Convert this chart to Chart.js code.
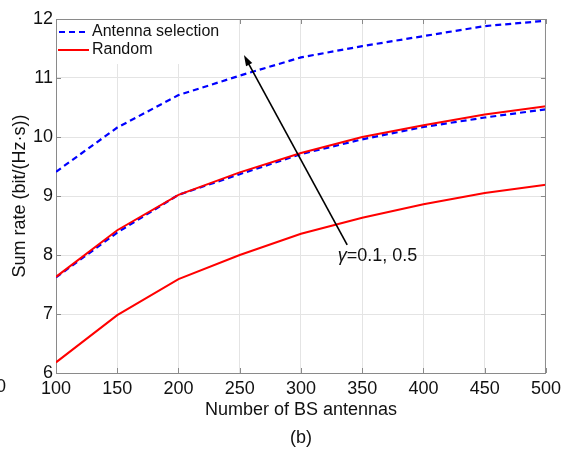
<!DOCTYPE html>
<html><head><meta charset="utf-8">
<script src="https://cdn.jsdelivr.net/npm/chart.js@4/dist/chart.umd.min.js"></script>
<style>html,body{margin:0;padding:0;background:#fff;}canvas{display:block;}</style>
</head><body>
<canvas id="c" width="566" height="450"></canvas>
<script>
// ---- data ----
const antennas = [100, 150, 200, 250, 300, 350, 400, 450, 500];
const asGammaHigh = [9.41, 10.16, 10.71, 11.04, 11.35, 11.54, 11.71, 11.88, 11.97];
const asGammaLow = [7.62, 8.38, 9.02, 9.37, 9.71, 9.96, 10.17, 10.33, 10.47];
const randGammaHigh = [7.63, 8.42, 9.02, 9.40, 9.73, 10.00, 10.20, 10.38, 10.52];
const randGammaLow = [6.18, 6.98, 7.59, 8.00, 8.36, 8.63, 8.86, 9.05, 9.19];
const xTickValues = [100, 150, 200, 250, 300, 350, 400, 450, 500];
const yTickValues = [6, 7, 8, 9, 10, 11, 12];
const legendLabels = ['Antenna selection', 'Random'];
const xTitle = ['Number of BS antennas', '(b)'];
const yTitle = 'Sum rate (bit/(Hz\u00B7s))';
const gammaSymbol = '\u03B3';
const gammaText = '=0.1, 0.5';
const arrowFrom = [337.7, 8.17];
const arrowTo = [253.4, 11.39];
const gammaLabelAt = [330, 7.99];
const neighbourTick = '500';

const FONT = 'Liberation Sans, Arial, Helvetica, sans-serif';
const BLUE = '#0000ff', RED = '#ff0000', AXIS = '#8a8a8a', GRID = '#e4e4e4', TXT = '#111';
const pts = ys => antennas.map((x, i) => ({x, y: ys[i]}));

const extras = {
  id: 'extras',
  afterDatasetsDraw(chart) {
    const {ctx, chartArea: a, scales: {x, y}} = chart;
    ctx.save();
    // top and right box lines
    ctx.strokeStyle = AXIS; ctx.lineWidth = 1;
    ctx.beginPath();
    ctx.moveTo(a.left, a.top + 0.5); ctx.lineTo(a.right, a.top + 0.5);
    ctx.moveTo(a.right - 0.5, a.top); ctx.lineTo(a.right - 0.5, a.bottom);
    ctx.stroke();
    // inward ticks
    ctx.beginPath();
    xTickValues.forEach(v => {
      const px = Math.round(x.getPixelForValue(v)) + 0.5;
      ctx.moveTo(px, a.top); ctx.lineTo(px, a.top + 5);
      ctx.moveTo(px, a.bottom); ctx.lineTo(px, a.bottom - 5);
    });
    yTickValues.forEach(v => {
      const py = Math.round(y.getPixelForValue(v)) + 0.5;
      ctx.moveTo(a.right, py); ctx.lineTo(a.right - 5, py);
      ctx.moveTo(a.left, py); ctx.lineTo(a.left + 5, py);
    });
    ctx.stroke();

    // legend
    const lx = a.left + 1, ly = a.top + 1;
    ctx.fillStyle = '#fff';
    ctx.fillRect(lx, ly, 168, 44);
    ctx.lineWidth = 2.2;
    ctx.strokeStyle = BLUE; ctx.setLineDash([6, 4]);
    ctx.beginPath(); ctx.moveTo(lx + 2, ly + 12); ctx.lineTo(lx + 32, ly + 12); ctx.stroke();
    ctx.setLineDash([]);
    ctx.strokeStyle = RED; ctx.lineWidth = 2;
    ctx.beginPath(); ctx.moveTo(lx + 1, ly + 30); ctx.lineTo(lx + 32, ly + 30); ctx.stroke();
    ctx.fillStyle = TXT; ctx.font = '16px ' + FONT; ctx.textBaseline = 'middle'; ctx.textAlign = 'left';
    ctx.fillText(legendLabels[0], lx + 35, ly + 12);
    ctx.fillText(legendLabels[1], lx + 35, ly + 30);

    // arrow
    const x0 = x.getPixelForValue(arrowFrom[0]), y0 = y.getPixelForValue(arrowFrom[1]);
    const x1 = x.getPixelForValue(arrowTo[0]), y1 = y.getPixelForValue(arrowTo[1]);
    const ang = Math.atan2(y1 - y0, x1 - x0);
    ctx.strokeStyle = '#000'; ctx.lineWidth = 1.6;
    ctx.beginPath(); ctx.moveTo(x0, y0);
    ctx.lineTo(x1 - 8 * Math.cos(ang), y1 - 8 * Math.sin(ang)); ctx.stroke();
    ctx.fillStyle = '#000';
    ctx.beginPath();
    ctx.moveTo(x1, y1);
    ctx.lineTo(x1 - 11 * Math.cos(ang) + 3.5 * Math.sin(ang), y1 - 11 * Math.sin(ang) - 3.5 * Math.cos(ang));
    ctx.lineTo(x1 - 11 * Math.cos(ang) - 3.5 * Math.sin(ang), y1 - 11 * Math.sin(ang) + 3.5 * Math.cos(ang));
    ctx.closePath(); ctx.fill();

    // gamma label
    const gx = x.getPixelForValue(gammaLabelAt[0]), gy = y.getPixelForValue(gammaLabelAt[1]);
    ctx.fillStyle = TXT; ctx.textBaseline = 'middle'; ctx.textAlign = 'left';
    ctx.font = 'italic 18px ' + FONT;
    ctx.fillText(gammaSymbol, gx, gy);
    const gw = ctx.measureText(gammaSymbol).width;
    ctx.font = '18px ' + FONT;
    ctx.fillText(gammaText, gx + gw, gy);

    // clipped tick label of the neighbouring panel
    ctx.textAlign = 'right';
    ctx.fillText(neighbourTick, 6, a.bottom + 14);
    ctx.restore();
  }
};

new Chart(document.getElementById('c'), {
  type: 'line',
  data: {
    datasets: [
      {label: legendLabels[1], data: pts(randGammaLow), borderColor: RED, borderWidth: 2},
      {label: legendLabels[1], data: pts(randGammaHigh), borderColor: RED, borderWidth: 2},
      {label: legendLabels[0], data: pts(asGammaLow), borderColor: BLUE, borderWidth: 2.2, borderDash: [6, 4]},
      {label: legendLabels[0], data: pts(asGammaHigh), borderColor: BLUE, borderWidth: 2.2, borderDash: [6, 4]}
    ]
  },
  options: {
    responsive: false,
    animation: false,
    events: [],
    elements: {point: {radius: 0}, line: {tension: 0, fill: false}},
    layout: {padding: {left: 0, right: 19, top: 19, bottom: 0}},
    plugins: {legend: {display: false}, tooltip: {enabled: false}},
    scales: {
      x: {
        type: 'linear', min: 100, max: 500,
        afterBuildTicks: s => { s.ticks = xTickValues.map(v => ({value: v})); },
        afterFit: s => { s.height = 77; },
        ticks: {font: {family: FONT, size: 18}, color: TXT, padding: 5, maxRotation: 0, autoSkip: false},
        grid: {color: GRID, drawTicks: false},
        border: {display: true, color: AXIS},
        title: {display: true, text: xTitle, color: TXT, font: {family: FONT, size: 18, lineHeight: '28px'}, padding: {top: 0, bottom: -2}}
      },
      y: {
        type: 'linear', min: 6, max: 12,
        afterBuildTicks: s => { s.ticks = yTickValues.map(v => ({value: v})); },
        afterFit: s => { s.width = 56; },
        ticks: {font: {family: FONT, size: 18}, color: TXT, padding: 3},
        grid: {color: GRID, drawTicks: false},
        border: {display: true, color: AXIS},
        title: {display: true, text: yTitle, color: TXT, font: {family: FONT, size: 18}, padding: {top: 9, bottom: 0}}
      }
    }
  },
  plugins: [extras]
});
</script>
</body></html>
